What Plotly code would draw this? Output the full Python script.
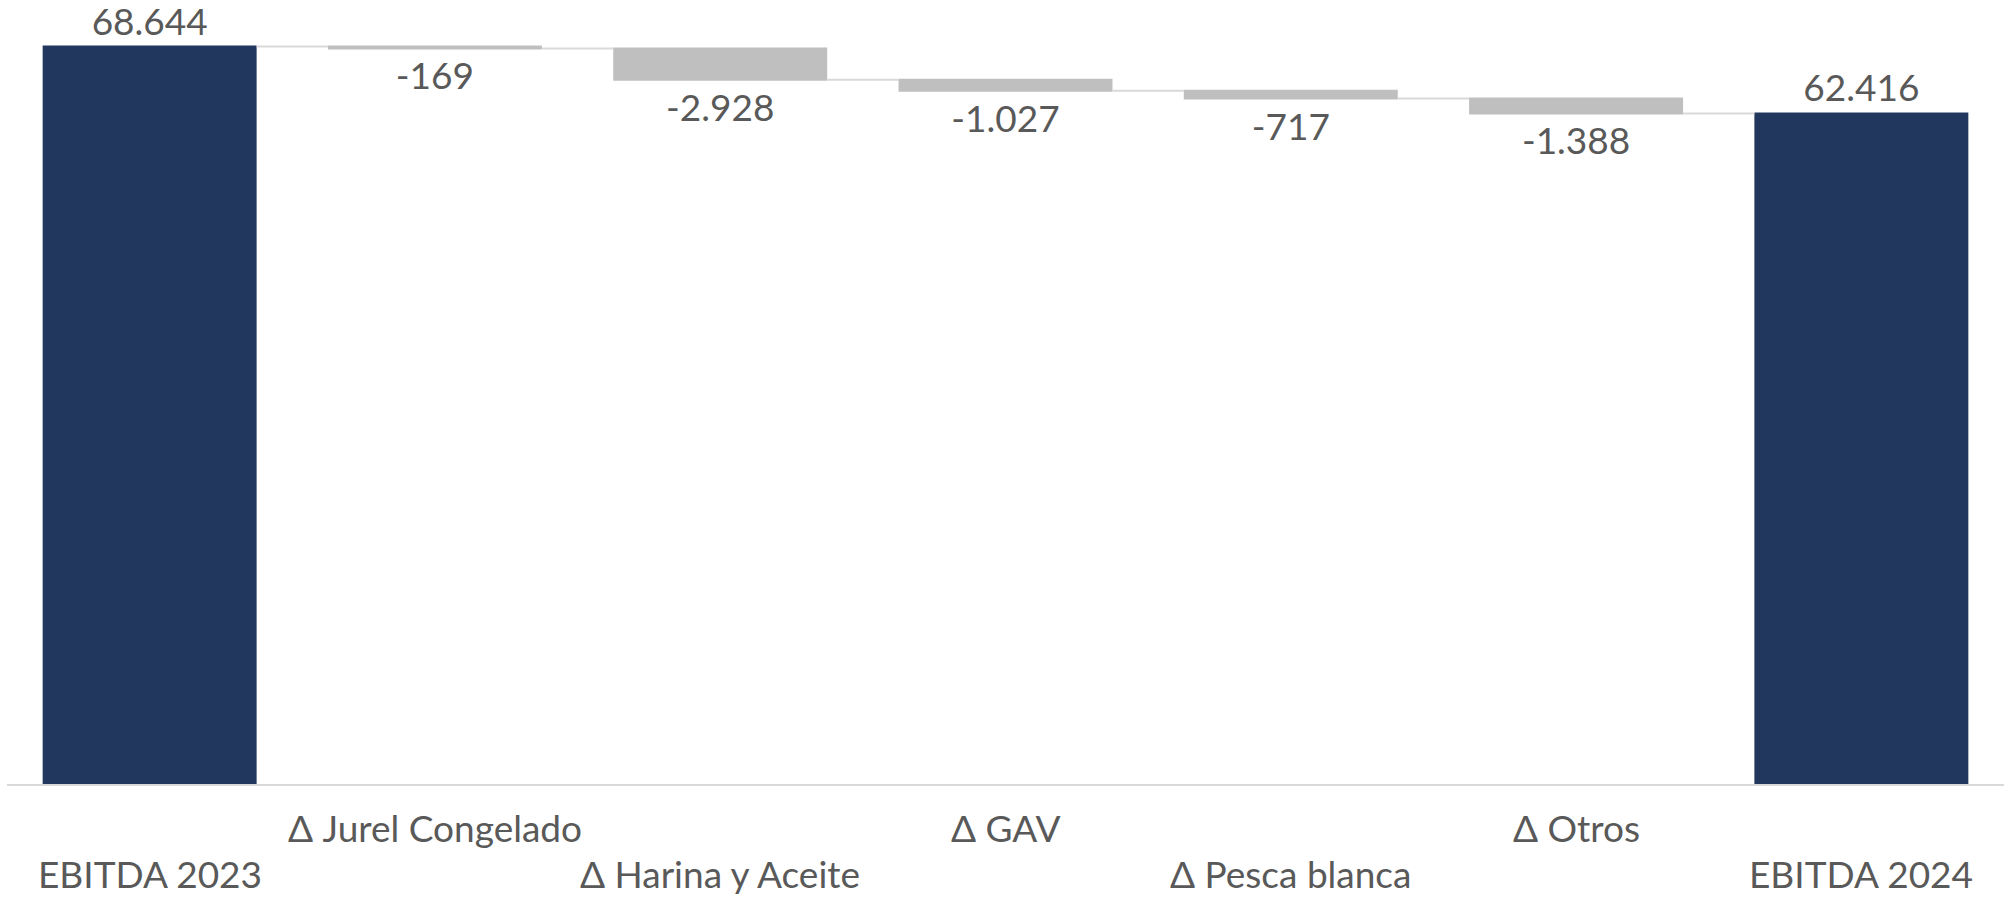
import plotly.graph_objects as go

categories = ["EBITDA 2023", "Δ Jurel Congelado", "Δ Harina y Aceite", "Δ GAV",
              "Δ Pesca blanca", "Δ Otros", "EBITDA 2024"]
values = [68644, -169, -2928, -1027, -717, -1388, 62416]
measures = ["absolute", "relative", "relative", "relative", "relative", "relative", "total"]

def fmt(v):
    return f"{v:,}".replace(",", ".")

labels = [fmt(v) for v in values]
waterfall_y = [v if m != "total" else 0 for v, m in zip(values, measures)]

NAVY = "#21375e"
GREY = "#bfbfbf"
TXT = "#595959"
FONT = "Lato"
FS = 37

fig = go.Figure(go.Waterfall(
    x=categories,
    y=waterfall_y,
    measure=measures,
    text=labels,
    textposition="outside",
    textfont=dict(family=FONT, size=FS, color=TXT),
    cliponaxis=False,
    decreasing=dict(marker=dict(color=GREY)),
    increasing=dict(marker=dict(color=GREY)),
    totals=dict(marker=dict(color=NAVY)),
    connector=dict(line=dict(color="#d9d9d9", width=2)),
    hoverinfo="skip",
))

annotations = []
for i, c in enumerate(categories):
    row = 0 if i % 2 == 1 else 1
    annotations.append(dict(
        x=c, y=0, xref="x", yref="y",
        text=c, showarrow=False,
        yanchor="middle", xanchor="center",
        yshift=-(43 + 46 * row),
        font=dict(family=FONT, size=FS, color=TXT),
    ))

fig.update_layout(
    width=2004, height=900,
    margin=dict(l=7, r=0, t=32, b=116),
    paper_bgcolor="white", plot_bgcolor="white",
    waterfallgap=0.25,
    showlegend=False,
    annotations=annotations,
    xaxis=dict(showticklabels=False, showline=True, linecolor="#d9d9d9",
               linewidth=2, ticks="", showgrid=False, zeroline=False),
    yaxis=dict(range=[0, 70000], visible=False, showgrid=False, zeroline=False),
)

fig.write_html(
    "out.html",
    config={"displayModeBar": False},
    post_script="document.body.style.margin='0';document.body.style.overflow='hidden';",
)
